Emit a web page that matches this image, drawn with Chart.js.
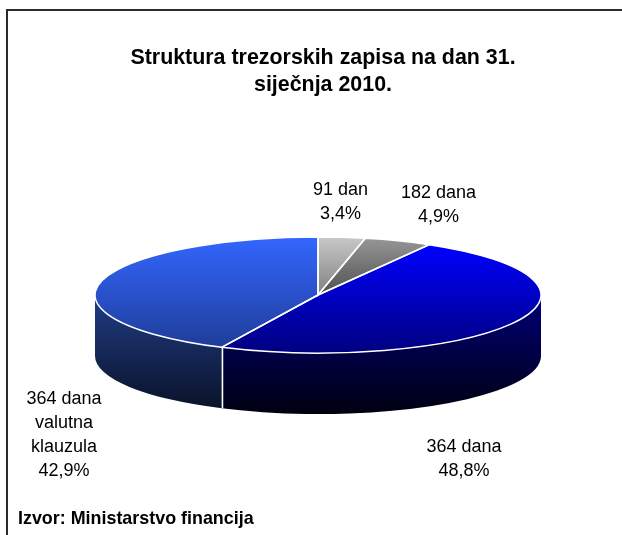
<!DOCTYPE html>
<html>
<head>
<meta charset="utf-8">
<style>
  html, body { margin: 0; padding: 0; background: #fff; }
  canvas { display: block; }
</style>
<script src="https://cdn.jsdelivr.net/npm/chart.js@4"></script>
</head>
<body>
<canvas id="chart" width="622" height="535"></canvas>
<script>
const categories = ["91 dan", "182 dana", "364 dana", "364 dana valutna klauzula"];
const shares = [3.4, 4.9, 48.8, 42.9];
const labelLines = [["91 dan"], ["182 dana"], ["364 dana"], ["364 dana", "valutna", "klauzula"]];
const shareLabels = ["3,4%", "4,9%", "48,8%", "42,9%"];
const titleLines = ["Struktura trezorskih zapisa na dan 31.", "siječnja 2010."];
const sourceLine = "Izvor: Ministarstvo financija";

// top face gradient [top, bottom], side wall gradient [top, bottom]
const faceColors = [["#c8c8c8", "#808080"], ["#969696", "#505050"], ["#0000ff", "#000080"], ["#3366ff", "#1f3d99"]];
const wallColors = [["#606060", "#303030"], ["#404040", "#202020"], ["#00007a", "#000010"], ["#1f3d85", "#0a1025"]];

// where the squashed pie goes on the page
const PIE = { x: 318, y: 295, rx: 223, ry: 58, depth: 61 };
// centre of first text line of each label
const labelAnchors = [[340.5, 190], [438.5, 193], [464, 447], [64, 399]];
const LABEL_FONT = '18px "Liberation Sans", Arial, sans-serif';

// y extent of one slice on the unit circle, used for per slice gradients
function sliceExtent(i) {
  const total = shares.reduce((a, b) => a + b, 0);
  const before = shares.slice(0, i).reduce((a, b) => a + b, 0);
  const a0 = (before / total) * 2 * Math.PI;
  const a1 = ((before + shares[i]) / total) * 2 * Math.PI;
  let min = Math.min(0, -Math.cos(a0), -Math.cos(a1));
  let max = Math.max(0, -Math.cos(a0), -Math.cos(a1));
  if (a0 <= Math.PI && a1 >= Math.PI) max = 1;
  if (a1 >= 2 * Math.PI - 1e-6) min = -1;
  return [min, max];
}

function faceGradient(ctx) {
  const chart = ctx.chart;
  const area = chart.chartArea;
  const i = ctx.dataIndex;
  if (!area) return faceColors[i][0];
  const cy = (area.top + area.bottom) / 2;
  const R = Math.min(area.width, area.height) / 2;
  const ext = sliceExtent(i);
  const g = chart.ctx.createLinearGradient(0, cy + ext[0] * R, 0, cy + ext[1] * R);
  g.addColorStop(0, faceColors[i][0]);
  g.addColorStop(1, faceColors[i][1]);
  return g;
}

const pie3d = {
  id: "pie3d",
  beforeDraw(chart) {
    // outer frame, only top and left show in the picture
    const c = chart.ctx;
    c.save();
    c.strokeStyle = "#2a2a2a";
    c.lineWidth = 2;
    c.beginPath();
    c.moveTo(7, 535);
    c.lineTo(7, 10);
    c.lineTo(622, 10);
    c.stroke();
    c.restore();
  },
  beforeDatasetsDraw(chart) {
    const c = chart.ctx;
    const arcs = chart.getDatasetMeta(0).data;
    // side walls, only the part of each slice that faces us
    arcs.forEach((arc, i) => {
      const a0 = Math.max(norm(arc.startAngle), 0);
      const a1 = Math.min(norm(arc.startAngle) + (arc.endAngle - arc.startAngle), Math.PI);
      if (a1 <= a0) return;
      const g = c.createLinearGradient(0, PIE.y, 0, PIE.y + PIE.ry + PIE.depth);
      g.addColorStop(0, wallColors[i][0]);
      g.addColorStop(1, wallColors[i][1]);
      c.fillStyle = g;
      c.beginPath();
      c.ellipse(PIE.x, PIE.y, PIE.rx, PIE.ry, 0, a0, a1);
      c.ellipse(PIE.x, PIE.y + PIE.depth, PIE.rx, PIE.ry, 0, a1, a0, true);
      c.closePath();
      c.fill();
    });
    // seam between two walls, drawn after both so neither covers it
    arcs.forEach((arc) => {
      const a = norm(arc.endAngle);
      if (a <= 0 || a >= Math.PI) return;
      const sx = Math.round(PIE.x + Math.cos(a) * PIE.rx) + 0.5;
      const sy = PIE.y + Math.sin(a) * PIE.ry;
      c.strokeStyle = "#fff";
      c.lineWidth = 1.5;
      c.beginPath();
      c.moveTo(sx, sy);
      c.lineTo(sx, sy + PIE.depth);
      c.stroke();
    });
    // the library draws the arcs flat, squash them into the top face
    const first = arcs[0];
    const R = first.outerRadius;
    c.save();
    c.translate(PIE.x, PIE.y);
    c.scale(PIE.rx / R, PIE.ry / R);
    c.translate(-first.x, -first.y);
  },
  afterDatasetsDraw(chart) {
    const c = chart.ctx;
    const arcs = chart.getDatasetMeta(0).data;
    c.restore();
    // white edges, stroked after restore so the line is not squashed
    c.strokeStyle = "#fff";
    c.lineWidth = 1.5;
    arcs.forEach((arc) => {
      c.beginPath();
      c.moveTo(PIE.x, PIE.y);
      c.ellipse(PIE.x, PIE.y, PIE.rx, PIE.ry, 0, arc.startAngle, arc.endAngle);
      c.closePath();
      c.stroke();
    });
    // labels
    c.fillStyle = "#000";
    c.font = LABEL_FONT;
    c.textAlign = "center";
    c.textBaseline = "middle";
    categories.forEach((name, i) => {
      const lines = labelLines[i].concat(shareLabels[i]);
      lines.forEach((line, k) => {
        c.fillText(line, labelAnchors[i][0], labelAnchors[i][1] + k * 24);
      });
    });
  }
};

function norm(a) {
  const t = 2 * Math.PI;
  let v = a % t;
  // keep slices crossing the right side (negative start) usable
  if (v > Math.PI) v -= t;
  return v;
}

new Chart(document.getElementById("chart"), {
  type: "pie",
  data: {
    labels: categories,
    datasets: [{ data: shares, backgroundColor: faceGradient, borderWidth: 0 }]
  },
  options: {
    responsive: false,
    animation: false,
    layout: { padding: { left: 18, right: -6, top: 45, bottom: 5 } },
    plugins: {
      legend: { display: false },
      tooltip: { enabled: false },
      title: {
        display: true,
        text: titleLines,
        color: "#000",
        padding: 0,
        font: { family: '"Liberation Sans", Arial, sans-serif', size: 21.4, weight: "bold", lineHeight: 27 / 21.4 }
      },
      subtitle: {
        display: true,
        text: sourceLine,
        position: "bottom",
        align: "start",
        color: "#000",
        padding: 0,
        font: { family: '"Liberation Sans", Arial, sans-serif', size: 17.9, weight: "bold" }
      }
    }
  },
  plugins: [pie3d]
});
</script>
</body>
</html>
